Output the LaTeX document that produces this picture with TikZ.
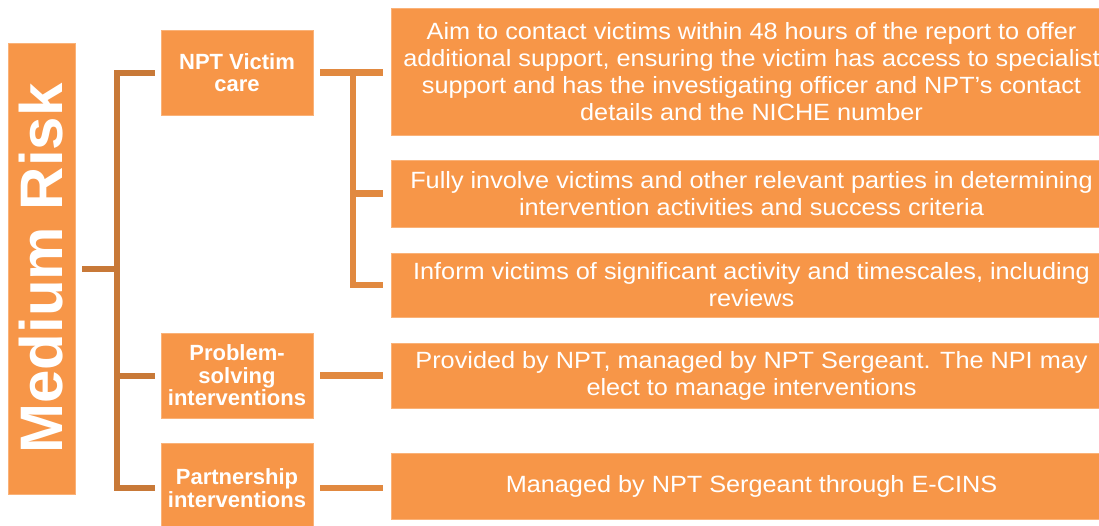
\documentclass[tikz,border=0pt]{standalone}
\usepackage{fontspec}
\setmainfont{Liberation Sans}
\newfontfamily\bodyfont[FakeStretch=1.075]{Liberation Sans}
\usetikzlibrary{calc}
\definecolor{boxfill}{RGB}{247,150,72}
\definecolor{boxedge}{RGB}{250,178,120}
\definecolor{lconncol}{RGB}{200,121,56}
\definecolor{rconncol}{RGB}{225,137,64}
\tikzset{
  obox/.style={fill=boxfill, draw=boxedge, line width=0.8pt, inner sep=0pt, align=center, text=white},
  riskbox/.style={obox, font=\fontsize{60}{60}\selectfont\bfseries},
  midbox/.style={obox, minimum width=152pt, font=\fontsize{22}{22.5}\selectfont\bfseries},
  leafbox/.style={obox, minimum width=721pt, font=\bodyfont\fontsize{23.5}{27}\selectfont},
  lconn/.style={draw=lconncol, line width=6pt},
  rconn/.style={draw=rconncol, line width=6.5pt}
}
\begin{document}
\begin{tikzpicture}[x=1pt,y=-1pt]
\useasboundingbox (0,0) rectangle (1099,525);
\clip (0,0) rectangle (1099,525);
% main box
\node[riskbox, minimum width=67pt, minimum height=451pt] (mr) at (41.5,268.5) {};
\node[text=white, font=\fontsize{60}{60}\selectfont\bfseries, rotate=90, inner sep=0pt] (mrtext) at (mr.center) {Medium Risk};
% middle boxes
\node[midbox, minimum height=85pt] (nvc) at (237,72.5) {NPT Victim\\care};
\node[midbox, minimum height=85pt] (psi) at (237,375.5) {Problem-\\solving\\interventions};
\node[midbox, minimum height=90pt] (par) at (237,488) {Partnership\\interventions};
% leaf boxes
\node[leafbox, minimum height=127pt] (r1) at (751.5,71.5) {Aim to contact victims within 48 hours of the report to offer\\additional support, ensuring the victim has access to specialist\\support and has the investigating officer and NPT’s contact\\details and the NICHE number};
\node[leafbox, minimum height=67pt] (r2) at (751.5,193.5) {Fully involve victims and other relevant parties in determining\\intervention activities and success criteria};
\node[leafbox, minimum height=64pt] (r3) at (751.5,285) {Inform victims of significant activity and timescales, including\\reviews};
\node[leafbox, minimum height=65pt] (r4) at (751.5,375.5) {Provided by NPT, managed by NPT Sergeant. The NPI may\\elect to manage interventions};
\node[leafbox, minimum height=66pt] (r5) at (751.5,486) {Managed by NPT Sergeant through E-CINS};
% left bracket
\draw[lconn] ([xshift=7pt]mr.east) -- ++(35.5,0);
\draw[lconn] ([xshift=-6pt]nvc.west) -- ++(-37.5,0) |- ([xshift=-6pt]par.west);
\draw[lconn] ([xshift=-6pt]psi.west) -- ++(-37.5,0);
% right bracket
\coordinate (rb) at ([xshift=39.5pt]nvc.east);
\draw[rconn] ([xshift=7pt]nvc.east) -- ([xshift=-8pt]r1.west |- nvc.east);
\draw[rconn] (rb) |- ([xshift=-8pt]r3.west);
\draw[rconn] (rb |- r2.west) -- ([xshift=-8pt]r2.west);
\draw[rconn] ([xshift=7pt]psi.east) -- ([xshift=-8pt]r4.west |- psi.east);
\draw[rconn] ([xshift=7pt]par.east) -- ([xshift=-8pt]r5.west |- par.east);
\end{tikzpicture}
\end{document}
